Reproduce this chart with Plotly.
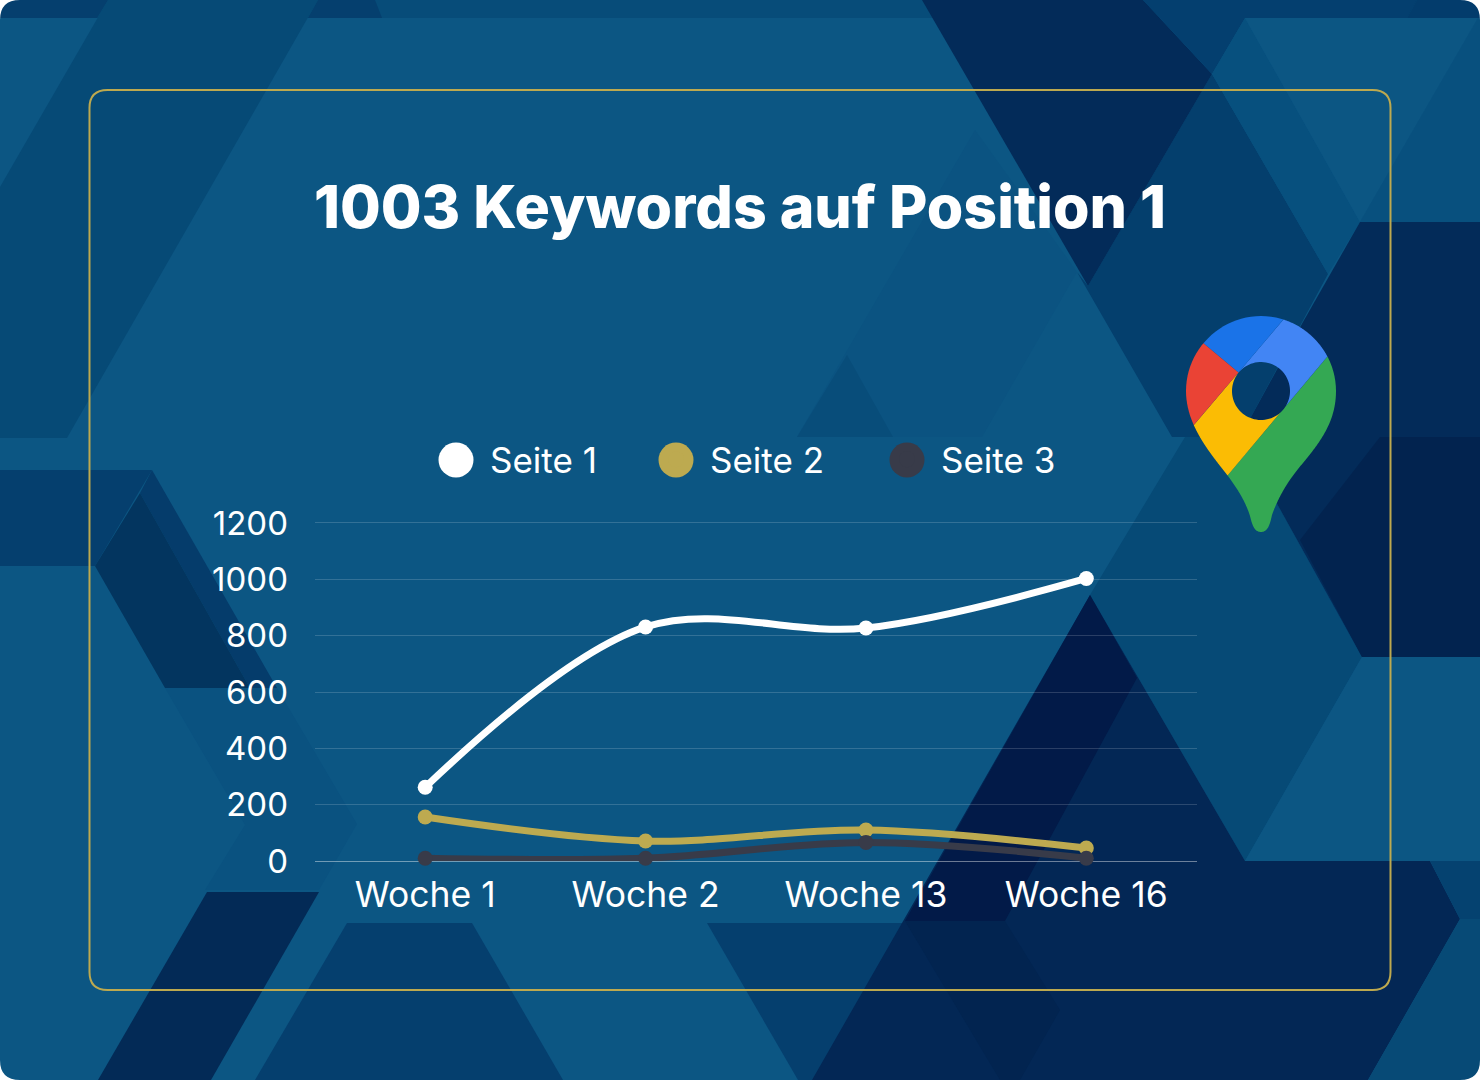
import math
import plotly.graph_objects as go

# ---- data ----
categories = ["Woche 1", "Woche 2", "Woche 13", "Woche 16"]
seite_1 = [262, 831, 827, 1003]
seite_2 = [156, 71, 110, 46]
seite_3 = [10, 10, 66, 10]
series_names = ["Seite 1", "Seite 2", "Seite 3"]
series_colors = ["#ffffff", "#bdaa50", "#383b49"]
y_ticks = [0, 200, 400, 600, 800, 1000, 1200]
title_text = "1003 Keywords auf Position 1"

W, H = 1480, 1080
FONT = "Inter"


def px(x, y):
    return x / W, 1 - y / H


def path_of(rings):
    out = []
    for ring in rings:
        pts = [px(*p) for p in ring]
        out.append("M" + " L".join(f"{a:.5f},{b:.5f}" for a, b in pts) + " Z")
    return " ".join(out)


def poly(points, color):
    return dict(type="path", xref="paper", yref="paper", path=path_of([points]),
                fillcolor=color, line=dict(width=0), layer="below")


BASE = "#0c5683"
bg = [
    # top-left
    ([(0, 0), (1480, 0), (1480, 18), (0, 18)], "#074c79"),
    ([(0, 0), (108, 0), (97, 18), (0, 18)], "#053f6e"),
    ([(318, 0), (375, 0), (382, 18), (308, 18)], "#053f6e"),
    ([(108, 0), (318, 0), (67, 438), (0, 438), (0, 187)], "#064a76"),
    # left hexagons
    ([(0, 470), (152, 470), (95, 566), (0, 566)], "#053f6e"),
    ([(165, 688), (277, 688), (357, 824), (319, 890), (205, 890), (245, 825)], "#0a5280"),
    ([(152, 470), (140, 493), (250, 688), (277, 688)], "#053c6b"),
    ([(140, 493), (95, 566), (165, 688), (250, 688)], "#03355f"),
    # bottom
    ([(207, 892), (319, 892), (211, 1080), (98, 1080)], "#032a56"),
    ([(347, 923), (472, 923), (563, 1080), (255, 1080)], "#053f6e"),
    ([(707, 923), (1000, 923), (1000, 1080), (798, 1080)], "#053f6e"),
    # centre-right faint
    ([(975, 130), (797, 437), (982, 437), (1077, 272)], "#0b5381"),
    ([(847, 355), (797, 437), (893, 437)], "#084d7a"),
    # big mid-tone region
    ([(1088, 286), (1212, 74), (1328, 274), (1240, 437), (1180, 437), (1172, 437), (1077, 272)], "#043f6d"),
    ([(1172, 437), (1240, 437), (1362, 657), (1245, 861), (1090, 595), (1123, 540), (1185, 437)], "#064a76"),
    # top dark triangle
    ([(922, 0), (1143, 0), (1212, 74), (1088, 286)], "#032b59"),
    ([(1143, 0), (1417, 0), (1407, 18), (1245, 18), (1212, 74)], "#043f6f"),
    ([(1417, 0), (1480, 0), (1480, 18), (1407, 18)], "#033c6c"),
    # top right
    ([(1212, 74), (1245, 18), (1360, 222), (1328, 274)], "#07507e"),
    ([(1245, 18), (1478, 18), (1360, 222)], BASE),
    ([(1478, 18), (1480, 18), (1480, 222), (1360, 222)], "#08507e"),
    # right navy
    ([(1360, 222), (1480, 222), (1480, 657), (1362, 657), (1240, 437), (1303, 322)], "#032b59"),
    ([(1380, 437), (1480, 437), (1480, 657), (1435, 657), (1362, 657), (1300, 540)], "#02234f"),
    ([(1362, 657), (1480, 657), (1480, 861), (1245, 861)], BASE),
    # large navy mountain
    ([(1090, 595), (1245, 861), (1430, 861), (1460, 919), (1368, 1080), (812, 1080)], "#032755"),
    ([(1090, 595), (1137, 678), (1005, 921), (905, 921)], "#021a48"),
    ([(905, 921), (1005, 921), (1060, 1010), (1020, 1080), (1000, 1080)], "#022450"),
    ([(1430, 861), (1480, 861), (1480, 919), (1460, 919)], "#054270"),
    ([(1460, 919), (1480, 919), (1480, 1080), (1368, 1080)], "#074a76"),
]

shapes = [poly(p, c) for p, c in bg]

# rounded picture corners (page colour)
R = 20
corners = [((0, 0), (R, 0), (0, R)), ((W, 0), (W - R, 0), (W, R)),
           ((0, H), (R, H), (0, H - R)), ((W, H), (W - R, H), (W, H - R))]
for c, a, b in corners:
    ca = px(*c)
    shapes.append(dict(type="path", xref="paper", yref="paper",
                       path=f"M{px(*a)[0]},{px(*a)[1]} Q{ca[0]},{ca[1]} {px(*b)[0]},{px(*b)[1]} L{ca[0]},{ca[1]} Z",
                       fillcolor="#ffffff", line=dict(width=0), layer="below"))

# gold card outline
x0, y0, x1, y1, r = 89.5, 90, 1390.5, 990, 18
P = lambda x, y: "%.5f,%.5f" % px(x, y)
card = (f"M{P(x0 + r, y0)} L{P(x1 - r, y0)} Q{P(x1, y0)} {P(x1, y0 + r)} L{P(x1, y1 - r)} "
        f"Q{P(x1, y1)} {P(x1 - r, y1)} L{P(x0 + r, y1)} Q{P(x0, y1)} {P(x0, y1 - r)} "
        f"L{P(x0, y0 + r)} Q{P(x0, y0)} {P(x0 + r, y0)} Z")
shapes.append(dict(type="path", xref="paper", yref="paper", path=card,
                   line=dict(color="#bda94f", width=2), layer="below"))


# ---- map pin (decoration) ----
def bez(p0, p1, p2, p3, n=24):
    out = []
    for i in range(n):
        t = i / n
        u = 1 - t
        out.append((u**3 * p0[0] + 3 * u * u * t * p1[0] + 3 * u * t * t * p2[0] + t**3 * p3[0],
                    u**3 * p0[1] + 3 * u * u * t * p1[1] + 3 * u * t * t * p2[1] + t**3 * p3[1]))
    return out


segs = [((1261, 316), (1302, 316), (1336, 350), (1336, 391)),
        ((1336, 391), (1336, 420), (1322, 440), (1303, 463)),
        ((1303, 463), (1290, 478), (1279, 495), (1272, 515)),
        ((1272, 515), (1270, 524), (1268, 532), (1261, 532)),
        ((1261, 532), (1254, 532), (1252, 524), (1250, 516)),
        ((1250, 516), (1245, 500), (1236, 487), (1228, 476)),
        ((1228, 476), (1210, 453), (1186, 425), (1186, 391)),
        ((1186, 391), (1186, 350), (1220, 316), (1261, 316))]
outline = [p for s in segs for p in bez(*s)]
HC, HR = (1261, 391), 29


def side_value(p, a, b, sign):
    return sign * ((b[0] - a[0]) * (p[1] - a[1]) - (b[1] - a[1]) * (p[0] - a[0]))


def clip(points, a, b, sign):
    out = []
    for i, p in enumerate(points):
        q = points[(i + 1) % len(points)]
        sp, sq = side_value(p, a, b, sign), side_value(q, a, b, sign)
        if sp >= 0:
            out.append(p)
        if sp * sq < 0:
            t = sp / (sp - sq)
            out.append((p[0] + t * (q[0] - p[0]), p[1] + t * (q[1] - p[1])))
    return out


def carve(ring, keep):
    """Replace the part of the ring lying inside the hole by the arc on the kept side."""
    dense = []
    for i, p in enumerate(ring):
        q = ring[(i + 1) % len(ring)]
        n = max(1, int(math.dist(p, q) / 0.5))
        dense += [(p[0] + (q[0] - p[0]) * k / n, p[1] + (q[1] - p[1]) * k / n) for k in range(n)]
    inside = [math.dist(p, HC) < HR for p in dense]
    if not any(inside) or all(inside):
        return ring
    start = next(i for i in range(len(dense)) if not inside[i])
    dense = dense[start:] + dense[:start]
    inside = inside[start:] + inside[:start]
    first = inside.index(True)
    last = len(inside) - 1 - inside[::-1].index(True)
    a0 = math.atan2(dense[first][1] - HC[1], dense[first][0] - HC[0])
    a1 = math.atan2(dense[last][1] - HC[1], dense[last][0] - HC[0])
    delta = (a1 - a0) % (2 * math.pi)
    mid = a0 + delta / 2
    if not keep((HC[0] + HR * math.cos(mid), HC[1] + HR * math.sin(mid))):
        delta -= 2 * math.pi
    arc = [(HC[0] + HR * math.cos(a0 + delta * k / 40), HC[1] + HR * math.sin(a0 + delta * k / 40))
           for k in range(41)]
    return dense[:first] + arc + dense[last + 1:]


L1 = ((1327, 357), (1228, 475))
LD = ((1283, 320), (1193, 426))
L3 = ((1203, 343), (1280, 407))
regions = [
    ("#34a853", [(L1, -1)]),
    ("#4285f4", [(L1, 1), (LD, -1), (L3, 1)]),
    ("#fbbc04", [(L1, 1), (LD, -1), (L3, -1)]),
    ("#1a73e8", [(LD, 1), (L3, 1)]),
    ("#ea4335", [(LD, 1), (L3, -1)]),
]
for color, cuts in regions:
    ring = outline
    signed = []
    for (a, b), s in cuts:
        # s=+1 keeps the upper-left side of the line
        k = s if (b[0] - a[0]) * (-1) > 0 else -s
        signed.append((a, b, k))
        ring = clip(ring, a, b, k)
    keep = lambda p, sg=tuple(signed): all(side_value(p, a, b, k) >= -1.5 for a, b, k in sg)
    ring = carve(ring, keep)
    shapes.append(dict(type="path", xref="paper", yref="paper", path=path_of([ring]),
                       fillcolor=color, line=dict(width=0), layer="above"))

# large legend discs, behind the legend's own markers
legend_centres = [456, 676, 907]
for cx, col in zip(legend_centres, series_colors):
    a, b = px(cx - 17.5, 442.5), px(cx + 17.5, 477.5)
    shapes.append(dict(type="circle", xref="paper", yref="paper", x0=a[0], x1=b[0], y0=b[1], y1=a[1],
                       fillcolor=col, line=dict(width=0), layer="below"))

fig = go.Figure()
legend_ids = ["legend", "legend2", "legend3"]
for name, vals, col in zip(series_names, [seite_1, seite_2, seite_3], series_colors):
    fig.add_trace(go.Scatter(x=categories, y=vals, name=name, mode="lines+markers",
                             line=dict(color=col, width=7, shape="spline", smoothing=1.0),
                             marker=dict(color=col, size=15), showlegend=False, cliponaxis=False))
for name, col, lid in zip(series_names, series_colors, legend_ids):
    fig.add_trace(go.Scatter(x=[None], y=[None], name=name, mode="markers", legend=lid,
                             marker=dict(color=col, size=16), showlegend=True))

legend_common = dict(orientation="h", yanchor="middle", xanchor="left", y=1 - 459.5 / H,
                     itemwidth=58, bgcolor="rgba(0,0,0,0)", borderwidth=0,
                     font=dict(family=FONT, size=35, color="#ffffff", weight=400),
                     itemclick=False, itemdoubleclick=False)

fig.update_layout(
    width=W, height=H, margin=dict(l=0, r=0, t=0, b=0, autoexpand=False),
    paper_bgcolor="#ffffff", plot_bgcolor="rgba(0,0,0,0)",
    shapes=[poly([(0, 0), (W, 0), (W, H), (0, H)], BASE)] + shapes,
    title=dict(text=title_text, x=0.5, xanchor="center", xref="paper",
               y=1 - 207 / H, yanchor="middle", yref="paper",
               font=dict(family=FONT, size=59, color="#ffffff", weight=800)),
    xaxis=dict(type="category", categoryorder="array", categoryarray=categories,
               domain=[315 / W, 1196.5 / W], range=[-0.5, 3.5], showgrid=False, zeroline=False,
               showline=False, ticks="", ticklabelstandoff=9,
               tickfont=dict(family=FONT, size=35.5, color="#ffffff", weight=400)),
    yaxis=dict(domain=[1 - 861 / H, 1 - 521.3 / H], range=[0, 1206], tickmode="array", tickvals=y_ticks,
               gridcolor="rgba(255,255,255,0.16)", gridwidth=1, zeroline=True,
               zerolinecolor="rgba(255,255,255,0.42)", zerolinewidth=1, showline=False,
               ticks="", ticklabelstandoff=26,
               tickfont=dict(family=FONT, size=33, color="#ffffff", weight=400)),
    legend=dict(x=(legend_centres[0] - 34) / W, **legend_common),
    legend2=dict(x=(legend_centres[1] - 34) / W, **legend_common),
    legend3=dict(x=(legend_centres[2] - 34) / W, **legend_common),
    hovermode=False,
)

fig.write_html("out.html", post_script="document.body.style.margin='0';",
               config={"displayModeBar": False})
